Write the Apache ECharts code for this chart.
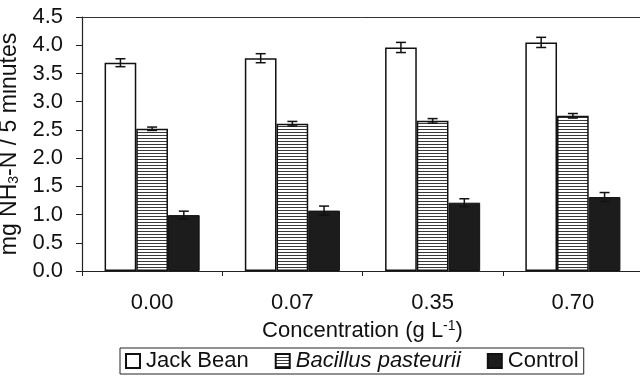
<!DOCTYPE html>
<html>
<head>
<meta charset="utf-8">
<script src="https://cdn.jsdelivr.net/npm/echarts@6/dist/echarts.min.js"></script>
<style>html,body{margin:0;padding:0;background:#fff}#c{width:640px;height:381px}</style>
</head>
<body>
<div id="c"></div>
<script>
var categories = ['0.00', '0.07', '0.35', '0.70'];
var jackBean = [3.69, 3.77, 3.96, 4.05];
var jackBeanErr = [0.07, 0.08, 0.09, 0.09];
var bacillus = [2.52, 2.61, 2.66, 2.75];
var bacillusErr = [0.03, 0.04, 0.04, 0.04];
var control = [0.99, 1.07, 1.21, 1.31];
var controlErr = [0.07, 0.08, 0.07, 0.08];
var yTicks = [0, 0.5, 1.0, 1.5, 2.0, 2.5, 3.0, 3.5, 4.0, 4.5];

var FONT = 'Liberation Sans';
var BAR_FRAC = 0.226;

// horizontal stripe pattern
var pat = document.createElement('canvas');
pat.width = 4; pat.height = 3;
var pctx = pat.getContext('2d');
pctx.fillStyle = '#ffffff'; pctx.fillRect(0, 0, 4, 3);
pctx.fillStyle = '#3a3a3a'; pctx.fillRect(0, 0, 4, 1);

function errData(vals, errs) {
  return vals.map(function (v, i) { return [i, v - errs[i], v + errs[i]]; });
}
function errSeries(vals, errs, idx) {
  return {
    type: 'custom',
    z: 5,
    silent: true,
    data: errData(vals, errs),
    encode: { x: 0, y: [1, 2] },
    renderItem: function (params, api) {
      var hi = api.coord([api.value(0), api.value(2)]);
      var lo = api.coord([api.value(0), api.value(1)]);
      var band = api.size([1, 0])[0];
      var x = hi[0] + (idx - 1) * band * BAR_FRAC;
      var cap = 5;
      var st = { stroke: '#111', lineWidth: 1.5, fill: null };
      return {
        type: 'group',
        children: [
          { type: 'line', shape: { x1: x, y1: hi[1], x2: x, y2: lo[1] }, style: st },
          { type: 'line', shape: { x1: x - cap, y1: hi[1], x2: x + cap, y2: hi[1] }, style: st },
          { type: 'line', shape: { x1: x - cap, y1: lo[1], x2: x + cap, y2: lo[1] }, style: st }
        ]
      };
    }
  };
}

var chart = echarts.init(document.getElementById('c'), null, { renderer: 'canvas' });
chart.setOption({
  animation: false,
  backgroundColor: '#fff',
  textStyle: { fontFamily: FONT, color: '#111' },
  grid: { left: 82, right: -3, top: 17, bottom: 110, containLabel: false, outerBoundsMode: 'none' },
  xAxis: [{
    type: 'category',
    data: categories,
    position: 'bottom',
    axisLine: { lineStyle: { color: '#222', width: 1.2 } },
    axisTick: { show: true, inside: false, length: 5, alignWithLabel: false, lineStyle: { color: '#222' } },
    axisLabel: { fontSize: 22, color: '#111', margin: 21, fontFamily: FONT },
    name: 'Concentration (g L{sup|-1})',
    nameLocation: 'middle',
    nameGap: 46,
    nameTextStyle: {
      fontSize: 22, color: '#111', fontFamily: FONT,
      rich: { sup: { fontSize: 14, verticalAlign: 'top', padding: [0, 0, 10, 0], fontFamily: FONT, color: '#111' } }
    }
  }, {
    type: 'category',
    data: categories,
    position: 'top',
    axisLine: { show: true, lineStyle: { color: '#333', width: 1 } },
    axisTick: { show: false },
    axisLabel: { show: false }
  }],
  yAxis: {
    type: 'value',
    min: 0, max: 4.5, interval: 0.5,
    axisLine: { show: true, lineStyle: { color: '#222', width: 1.2 } },
    axisTick: { show: true, length: 6, lineStyle: { color: '#222' } },
    splitLine: { show: false },
    axisLabel: {
      fontSize: 22, color: '#111', margin: 19, fontFamily: FONT,
      formatter: function (v) { return v.toFixed(1); }
    },
    name: 'mg NH{sub|3}-N / 5 minutes',
    nameLocation: 'middle',
    nameGap: 50,
    nameRotate: 90,
    nameTextStyle: {
      fontSize: 23, color: '#111', fontFamily: FONT,
      rich: { sub: { fontSize: 14, verticalAlign: 'bottom', padding: [10, 0, 0, 0], fontFamily: FONT, color: '#111' } }
    }
  },
  legend: {
    data: ['Jack Bean', 'Bacillus pasteurii', 'Control'],
    left: 120, top: 348,
    padding: [2, 5, 2, 5],
    borderColor: '#222', borderWidth: 1,
    itemWidth: 14, itemHeight: 14, itemGap: 26,
    icon: 'rect',
    textStyle: {
      fontSize: 22, color: '#111', fontFamily: FONT, padding: [0, 0, 0, 1],
      rich: { it: { fontStyle: 'italic', fontSize: 22, fontFamily: FONT, color: '#111' } }
    },
    formatter: function (n) { return n === 'Bacillus pasteurii' ? '{it|' + n + '}' : n; }
  },
  series: [
    {
      name: 'Jack Bean', type: 'bar', data: jackBean,
      barWidth: (BAR_FRAC * 100) + '%', barGap: '0%',
      itemStyle: { color: '#fff', borderColor: '#111', borderWidth: 1.5 }
    },
    {
      name: 'Bacillus pasteurii', type: 'bar', data: bacillus,
      barWidth: (BAR_FRAC * 100) + '%', barGap: '0%',
      itemStyle: { color: { image: pat, repeat: 'repeat' }, borderColor: '#111', borderWidth: 1.5 }
    },
    {
      name: 'Control', type: 'bar', data: control,
      barWidth: (BAR_FRAC * 100) + '%', barGap: '0%',
      itemStyle: { color: '#1c1c1c', borderColor: '#111', borderWidth: 1 }
    },
    errSeries(jackBean, jackBeanErr, 0),
    errSeries(bacillus, bacillusErr, 1),
    errSeries(control, controlErr, 2)
  ]
});
</script>
</body>
</html>
